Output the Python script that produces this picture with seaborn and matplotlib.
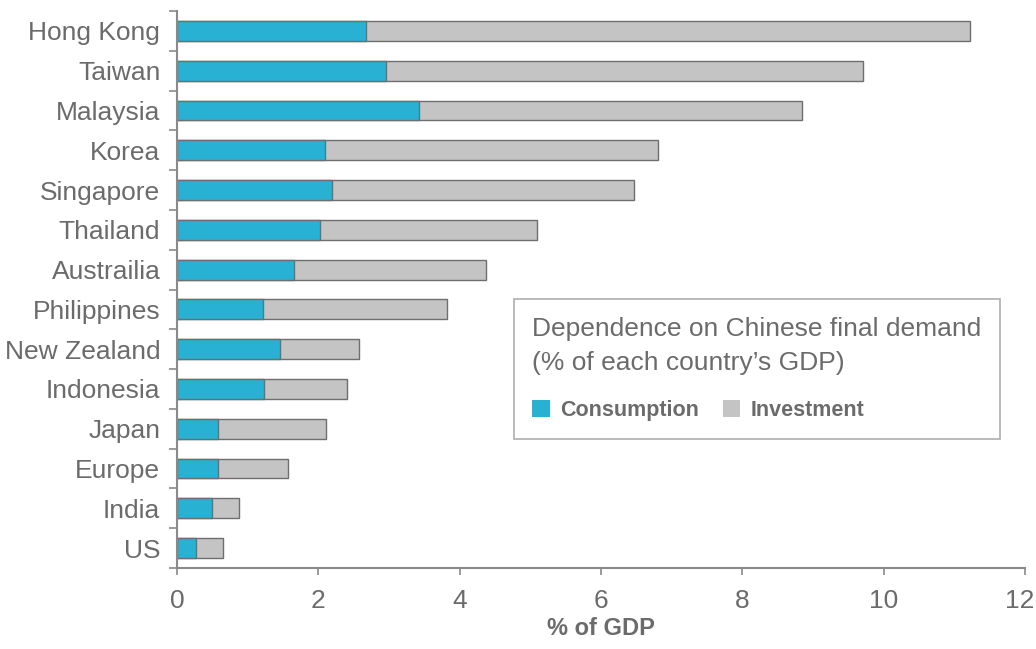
import matplotlib
matplotlib.use("Agg")
import matplotlib.pyplot as plt
from matplotlib.patches import Patch
from matplotlib.ticker import FixedLocator
from matplotlib.transforms import ScaledTranslation
import numpy as np
import pandas as pd
import seaborn as sns

# data (% of GDP)
countries = ["Hong Kong", "Taiwan", "Malaysia", "Korea", "Singapore", "Thailand",
             "Austrailia", "Philippines", "New Zealand", "Indonesia", "Japan",
             "Europe", "India", "US"]
consumption = [2.68, 2.96, 3.43, 2.10, 2.20, 2.03, 1.66, 1.22, 1.46, 1.23, 0.58, 0.58, 0.50, 0.27]
investment = [8.54, 6.75, 5.41, 4.70, 4.26, 3.07, 2.71, 2.60, 1.12, 1.18, 1.53, 0.99, 0.38, 0.38]
x_ticks = [0, 2, 4, 6, 8, 10, 12]

BLUE = "#29b1d3"
GREY = "#c4c4c4"
EDGE = "#6e6e6e"
TEXT = "#6b6b6b"
AXIS = "#8a8a8a"

df = pd.DataFrame({"country": countries,
                   "consumption": consumption,
                   "investment": investment})
df["total"] = df["consumption"] + df["investment"]

sns.set_theme(style="white")
plt.rcParams["font.family"] = ["Liberation Sans", "DejaVu Sans"]

fig = plt.figure(figsize=(10.36, 6.49), dpi=100)
ax = fig.add_axes([177 / 1036, 1 - 568 / 649, (1025 - 177) / 1036, (568 - 11) / 649])

# stacked bars: full total in grey, consumption drawn over it in blue
sns.barplot(data=df, x="total", y="country", orient="h", color=GREY, saturation=1,
            width=0.5, edgecolor=EDGE, linewidth=1, ax=ax)
sns.barplot(data=df, x="consumption", y="country", orient="h", color=BLUE, saturation=1,
            width=0.5, edgecolor=EDGE, linewidth=1, ax=ax)

ax.set_xlim(0, 12)
ax.set_ylim(len(countries) - 0.5, -0.5)
ax.set_xticks(x_ticks)
ax.set_xticklabels([str(t) for t in x_ticks])
ax.yaxis.set_minor_locator(FixedLocator(np.arange(-0.5, len(countries), 1.0)))

ax.tick_params(axis="x", which="major", direction="out", length=5, width=1.2,
               color=AXIS, labelsize=19, labelcolor=TEXT, pad=10, bottom=True)
ax.tick_params(axis="y", which="major", length=0, labelsize=19, labelcolor=TEXT, pad=12)
ax.tick_params(axis="y", which="minor", direction="out", length=6, width=1.2,
               color=AXIS, left=True)

# last tick label nudged left so it stays inside the figure
last = ax.get_xticklabels()[-1]
last.set_transform(last.get_transform() + ScaledTranslation(-4 / 72, 0, fig.dpi_scale_trans))

for side in ["top", "right"]:
    ax.spines[side].set_visible(False)
for side in ["left", "bottom"]:
    ax.spines[side].set_color(AXIS)
    ax.spines[side].set_linewidth(1.5)

ax.set_ylabel("")
ax.set_xlabel("% of GDP", fontsize=17, fontweight="bold", color=TEXT, labelpad=3)

handles = [Patch(facecolor=BLUE, edgecolor="none", label="Consumption"),
           Patch(facecolor=GREY, edgecolor="none", label="Investment")]
leg = ax.legend(handles=handles, ncol=2, loc="upper left",
                bbox_to_anchor=(514 / 1036, 1 - 299 / 649), bbox_transform=fig.transFigure,
                borderaxespad=0,
                title="Dependence on Chinese final demand\n(% of each country\u2019s GDP)",
                title_fontsize=19, prop={"size": 15.5, "weight": "bold"},
                alignment="left", frameon=True, fancybox=False,
                handlelength=0.8, handleheight=0.8, handletextpad=0.47,
                columnspacing=1.15, borderpad=0.85, labelspacing=0.5)
leg.get_frame().set_edgecolor("#999999")
leg.get_frame().set_linewidth(1.2)
leg.get_title().set_color(TEXT)
leg.get_title().set_linespacing(1.5)
for t in leg.get_texts():
    t.set_color(TEXT)
leg._legend_box.sep = 18

fig.savefig("out.png", dpi=100)
